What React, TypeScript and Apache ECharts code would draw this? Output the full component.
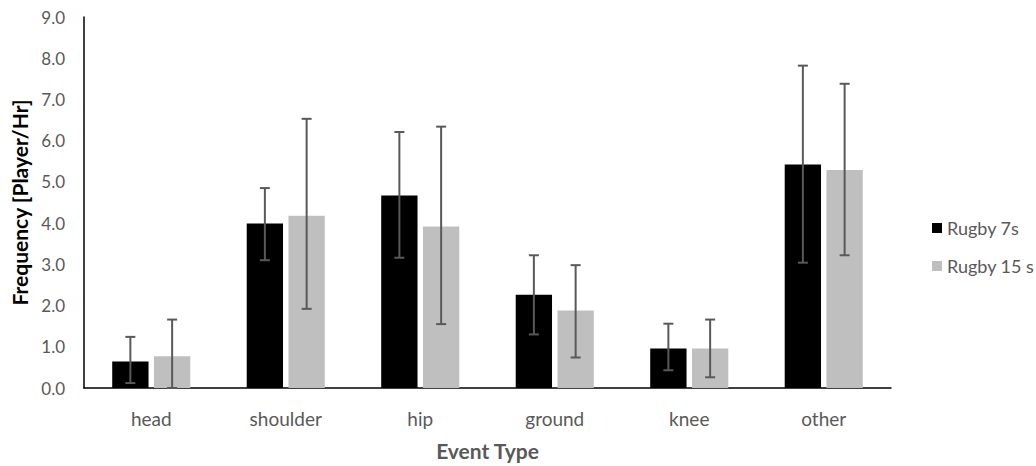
import React, { useEffect, useRef } from "react";
import * as echarts from "echarts";

const categories = ["head", "shoulder", "hip", "ground", "knee", "other"];
const seriesNames = ["Rugby 7s", "Rugby 15 s"];
const rugby7Values = [0.64, 3.99, 4.67, 2.26, 0.96, 5.42];
const rugby7Low = [0.12, 3.1, 3.16, 1.3, 0.43, 3.04];
const rugby7High = [1.24, 4.85, 6.21, 3.22, 1.56, 7.82];
const rugby15Values = [0.77, 4.18, 3.92, 1.88, 0.96, 5.29];
const rugby15Low = [0.0, 1.92, 1.55, 0.74, 0.26, 3.22];
const rugby15High = [1.66, 6.53, 6.34, 2.98, 1.66, 7.38];
const yTicks = { min: 0, max: 9, interval: 1 };

const BAR_W = 0.27;
const BAR_GAP = 0.15;
const FONT = "Lato, 'Open Sans', sans-serif";

function errorSeries(name: string, low: number[], high: number[], side: number) {
  return {
    type: "custom",
    name: name + " error",
    silent: true,
    z: 5,
    data: categories.map((_, i) => [i, low[i], high[i]]),
    renderItem: (params: any, api: any) => {
      const i = api.value(0);
      const lo = api.coord([i, api.value(1)]);
      const hi = api.coord([i, api.value(2)]);
      const band = api.size([1, 0])[0];
      const bw = band * BAR_W;
      const off = side * (bw + bw * BAR_GAP) / 2;
      const x = lo[0] + off;
      const cap = 5;
      const style = { stroke: "#595959", lineWidth: 2 };
      return {
        type: "group",
        children: [
          { type: "line", shape: { x1: x, y1: lo[1], x2: x, y2: hi[1] }, style },
          { type: "line", shape: { x1: x - cap, y1: hi[1], x2: x + cap, y2: hi[1] }, style },
          { type: "line", shape: { x1: x - cap, y1: lo[1], x2: x + cap, y2: lo[1] }, style },
        ],
      };
    },
  };
}

export default function App() {
  const ref = useRef<HTMLDivElement>(null);
  useEffect(() => {
    document.body.style.margin = "0";
    const chart = echarts.init(ref.current!, null, { renderer: "svg" });
    chart.setOption({
      animation: false,
      textStyle: { fontFamily: FONT },
      grid: { left: 84, right: 145, top: 17, bottom: 75 },
      legend: {
        orient: "vertical",
        left: 927,
        top: 214,
        itemWidth: 10,
        itemHeight: 10,
        itemGap: 20,
        itemTextGap: 7,
        icon: "rect",
        data: seriesNames,
        textStyle: { color: "#595959", fontSize: 18, fontFamily: FONT },
      },
      xAxis: {
        type: "category",
        data: categories,
        name: "Event Type",
        nameLocation: "middle",
        nameGap: 52,
        nameTextStyle: { color: "#595959", fontSize: 21, fontWeight: "bold", fontFamily: FONT },
        axisLine: { lineStyle: { color: "#000", width: 1.5 } },
        axisTick: { show: false },
        axisLabel: { color: "#595959", fontSize: 19, margin: 21, fontFamily: FONT },
      },
      yAxis: {
        type: "value",
        min: yTicks.min,
        max: yTicks.max,
        interval: yTicks.interval,
        name: "Frequency [Player/Hr]",
        nameLocation: "middle",
        nameGap: 52,
        nameTextStyle: { color: "#000", fontSize: 21, fontWeight: "bold", fontFamily: FONT },
        axisLine: { show: true, lineStyle: { color: "#000", width: 1.5 } },
        axisTick: { show: false },
        splitLine: { show: false },
        axisLabel: {
          color: "#595959",
          fontSize: 17,
          margin: 19,
          fontFamily: FONT,
          formatter: (v: number) => v.toFixed(1),
        },
      },
      series: [
        {
          type: "bar",
          name: seriesNames[0],
          data: rugby7Values,
          barWidth: BAR_W * 100 + "%",
          barGap: BAR_GAP * 100 + "%",
          itemStyle: { color: "#000000" },
        },
        {
          type: "bar",
          name: seriesNames[1],
          data: rugby15Values,
          barWidth: BAR_W * 100 + "%",
          barGap: BAR_GAP * 100 + "%",
          itemStyle: { color: "#bfbfbf" },
        },
        errorSeries(seriesNames[0], rugby7Low, rugby7High, -1),
        errorSeries(seriesNames[1], rugby15Low, rugby15High, 1),
      ],
    });
    return () => chart.dispose();
  }, []);
  return <div ref={ref} style={{ width: 1036, height: 466 }} />;
}
